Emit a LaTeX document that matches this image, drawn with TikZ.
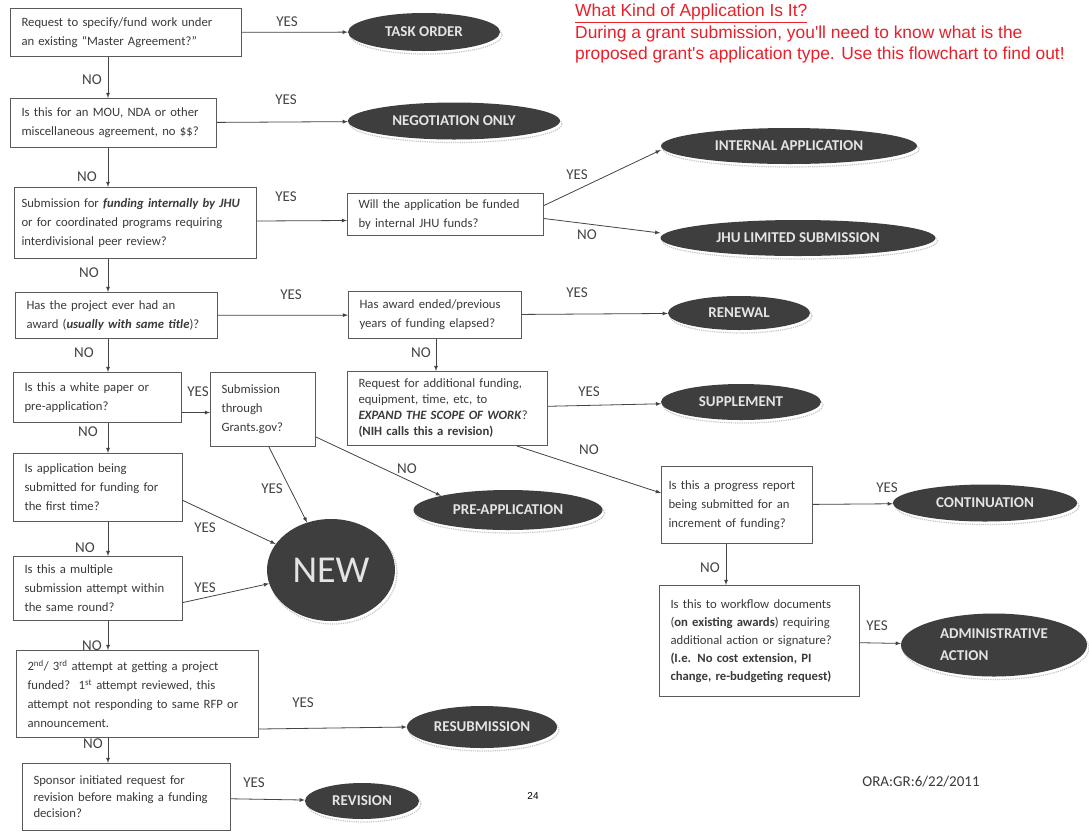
\documentclass[tikz,border=0pt]{standalone}
\usepackage{fontspec}
\setmainfont{Carlito}
\newfontfamily\arialfont{Liberation Sans}
\usetikzlibrary{shapes.geometric}

\definecolor{boxline}{HTML}{5A5A5A}
\definecolor{boxtext}{HTML}{3A3A3A}
\definecolor{ovalfill}{HTML}{3E3E3E}
\definecolor{ovaltext}{HTML}{E4E4E4}
\definecolor{arrowgray}{HTML}{444444}
\definecolor{lblgray}{HTML}{444444}
\definecolor{titlered}{HTML}{E8202A}

\begin{document}
\begin{tikzpicture}[x=1pt,y=-1pt,
    qbox/.style={draw=boxline, line width=1pt, fill=white, text=boxtext, align=left,
      inner xsep=11pt, inner ysep=0pt, anchor=north west,
      font=\fontsize{12.7}{19}\selectfont},
    outcome/.style={ellipse, fill=ovalfill, text=ovaltext, inner sep=0pt,
      font=\fontsize{15}{22}\selectfont\bfseries,
      preaction={draw=black!22, densely dotted, line width=1.2pt,
        transform canvas={xshift=2pt,yshift=-3pt}}},
    lbl/.style={text=lblgray, font=\fontsize{15}{18}\selectfont, inner sep=0pt},
    arr/.style={-latex, draw=arrowgray, line width=0.8pt}]

    \path[use as bounding box, fill=white] (0,0) rectangle (1089,831);

    \node[anchor=north west, inner sep=0pt, align=left, text=titlered,
      font=\arialfont\fontsize{17.4}{21.5}\selectfont] (Title) at (575,4)
      {\underline{What Kind of Application Is It?}\\
       During a grant submission, you'll need to know what is the\\
       proposed grant's application type. Use this flowchart to find out!};

    \coordinate (NOxpos) at (108,0);
    \coordinate (Endxpos) at (436,0);
    \coordinate (Prgxpos) at (726,0);

    \node[qbox, text width=209pt, minimum height=48pt] (Req) at (10,8)
      {Request to specify/fund work under\\ an existing “Master Agreement?”};
    \node[qbox, text width=184pt, minimum height=49pt] (MOU) at (10,98)
      {Is this for an MOU, NDA or other\\ miscellaneous agreement, no \$\$?};
    \node[qbox, text width=228pt, inner xsep=7pt, minimum height=71pt] (JHU) at (14,187)
      {Submission for \textbf{\textit{funding internally by JHU}}\\ or for coordinated programs requiring\\ interdivisional peer review?};
    \node[qbox, text width=174pt, minimum height=42pt] (Fund) at (347,193)
      {Will the application be funded\\ by internal JHU funds?};
    \node[qbox, text width=180pt, minimum height=46pt] (Awd) at (15,292)
      {Has the project ever had an\\ award (\textbf{\textit{usually with same title}})?};
    \node[qbox, text width=151pt, minimum height=47pt] (End) at (348,291)
      {Has award ended/previous\\ years of funding elapsed?};
    \node[qbox, text width=146pt, minimum height=50pt] (Wht) at (13,372)
      {Is this a white paper or\\ pre-application?};
    \node[qbox, text width=83pt, minimum height=74pt] (Grt) at (210,372)
      {Submission\\ through\\ Grants.gov?};
    \node[qbox, text width=178pt, minimum height=74pt, font=\fontsize{12.7}{16}\selectfont] (Add) at (347,371)
      {Request for additional funding,\\ equipment, time, etc, to\\ \textbf{\textit{EXPAND THE SCOPE OF WORK}}?\\ \textbf{(NIH calls this a revision)}};
    \node[qbox, text width=147pt, minimum height=68pt] (Frst) at (13,453)
      {Is application being\\ submitted for funding for\\ the first time?};
    \node[qbox, text width=137pt, inner xsep=7pt, minimum height=77pt] (Prg) at (661,466)
      {Is this a progress report\\ being submitted for an\\ increment of funding?};
    \node[qbox, text width=147pt, minimum height=64pt] (Mlt) at (13,556)
      {Is this a multiple\\ submission attempt within\\ the same round?};
    \node[qbox, text width=178pt, minimum height=111pt, font=\fontsize{12.7}{18}\selectfont] (Wfl) at (659,585)
      {Is this to workflow documents\\ (\textbf{on existing awards}) requiring\\ additional action or signature?\\ \textbf{(I.e. No cost extension, PI}\\ \textbf{change, re-budgeting request)}};
    \node[qbox, text width=220pt, minimum height=87pt] (Att) at (16,650)
      {2\textsuperscript{nd}/ 3\textsuperscript{rd} attempt at getting a project\\ funded?~~1\textsuperscript{st} attempt reviewed, this\\ attempt not responding to same RFP or\\ announcement.};
    \node[qbox, text width=186pt, minimum height=67pt, font=\fontsize{12.7}{16.5}\selectfont] (Spn) at (22,763)
      {Sponsor initiated request for\\ revision before making a funding\\ decision?};

    \node[outcome, minimum width=152pt, minimum height=38pt] (TOr) at (424,32) {TASK ORDER};
    \node[outcome, minimum width=212pt, minimum height=37pt] (NOn) at (454,121) {NEGOTIATION ONLY};
    \node[outcome, minimum width=256pt, minimum height=36pt] (IAp) at (789,146) {INTERNAL APPLICATION};
    \node[outcome, minimum width=275pt, minimum height=36pt] (JLS) at (798,238) {JHU LIMITED SUBMISSION};
    \node[outcome, minimum width=142pt, minimum height=34pt] (Ren) at (739,313) {RENEWAL};
    \node[outcome, minimum width=160pt, minimum height=36pt] (Sup) at (741,402) {SUPPLEMENT};
    \node[outcome, minimum width=189pt, minimum height=40pt] (PAp) at (508,510) {PRE-APPLICATION};
    \node[outcome, minimum width=184pt, minimum height=37pt] (Con) at (985,503) {CONTINUATION};
    \node[outcome, minimum width=128pt, minimum height=102pt, font=\fontsize{38}{40}\selectfont] (New) at (331,570) {NEW};
    \node[outcome, minimum width=186pt, minimum height=63pt, align=left] (Adm) at (994,645) {ADMINISTRATIVE\\ ACTION};
    \node[outcome, minimum width=150pt, minimum height=42pt] (Res) at (482,727) {RESUBMISSION};
    \node[outcome, minimum width=114pt, minimum height=36pt] (Rev) at (362,801) {REVISION};

    \node[lbl] (ReqYes) at (287,22) {YES};
    \node[lbl] (MOUYes) at (286,100) {YES};
    \node[lbl] (JHUYes) at (286,197) {YES};
    \node[lbl] (FundYes) at (577,175) {YES};
    \node[lbl] (AwdYes) at (291,295) {YES};
    \node[lbl] (EndYes) at (577,293) {YES};
    \node[lbl] (WhtYes) at (198,392) {YES};
    \node[lbl] (AddYes) at (589,392) {YES};
    \node[lbl] (GrtYes) at (272,489) {YES};
    \node[lbl] (FrstYes) at (205,528) {YES};
    \node[lbl] (PrgYes) at (887,488) {YES};
    \node[lbl] (MltYes) at (205,588) {YES};
    \node[lbl] (WflYes) at (877,626) {YES};
    \node[lbl] (AttYes) at (303,703) {YES};
    \node[lbl] (SpnYes) at (254,783) {YES};

    \node[lbl] (ReqNo) at (92,80) {NO};
    \node[lbl] (MOUNo) at (87,177) {NO};
    \node[lbl] (JHUNo) at (89,273) {NO};
    \node[lbl] (FundNo) at (587,235) {NO};
    \node[lbl] (AwdNo) at (84,353) {NO};
    \node[lbl] (EndNo) at (421,353) {NO};
    \node[lbl] (WhtNo) at (88,432) {NO};
    \node[lbl] (GrtNo) at (407,469) {NO};
    \node[lbl] (AddNo) at (589,450) {NO};
    \node[lbl] (FrstNo) at (85,548) {NO};
    \node[lbl] (PrgNo) at (710,568) {NO};
    \node[lbl] (MltNo) at (92,646) {NO};
    \node[lbl] (AttNo) at (93,744) {NO};

    \node[text=boxtext, font=\fontsize{15}{18}\selectfont] (Date) at (921,782) {ORA:GR:6/22/2011};
    \node[font=\arialfont\fontsize{10}{12}\selectfont] (Page) at (533,796) {24};

    \draw[arr] (Req) -- (TOr);
    \draw[arr] (MOU) -- (NOn);
    \draw[arr] ([yshift=2pt]JHU.east) -- ([yshift=-6pt]Fund.west);
    \draw[arr] ([yshift=9pt]Fund.east) -- ([yshift=-4pt]IAp.west);
    \draw[arr] ([yshift=-4pt]Fund.east) -- ([yshift=5pt]JLS.west);
    \draw[arr] (Awd) -- (End);
    \draw[arr] (End) -- (Ren);
    \draw[arr] ([yshift=-15pt]Wht.east) -- ([yshift=-3pt]Grt.west);
    \draw[arr] (Add) -- (Sup);
    \draw[arr] ([yshift=10pt]Grt.south east) -- (PAp.north west);
    \draw[arr] ([xshift=6pt]Grt.south) -- (New);
    \draw[arr] ([yshift=-13pt]Frst.east) -- (New);
    \draw[arr] ([yshift=-14pt]Mlt.east) -- (New);
    \draw[arr] ([xshift=-31pt]Add.south east) -- ([yshift=12pt]Prg.west);
    \draw[arr] (Prg) -- (Con);
    \draw[arr] (Wfl) -- (Adm);
    \draw[arr] ([yshift=9pt]Att.south east) -- (Res.west);
    \draw[arr] (Spn) -- (Rev);

    \draw[arr] (Req.south -| NOxpos) -- (MOU.north -| NOxpos);
    \draw[arr] (MOU.south -| NOxpos) -- (JHU.north -| NOxpos);
    \draw[arr] (JHU.south -| NOxpos) -- (Awd.north -| NOxpos);
    \draw[arr] (Awd.south -| NOxpos) -- (Wht.north -| NOxpos);
    \draw[arr] (Wht.south -| NOxpos) -- (Frst.north -| NOxpos);
    \draw[arr] (Frst.south -| NOxpos) -- (Mlt.north -| NOxpos);
    \draw[arr] (Mlt.south -| NOxpos) -- (Att.north -| NOxpos);
    \draw[arr] (Att.south -| NOxpos) -- (Spn.north -| NOxpos);
    \draw[arr] (End.south -| Endxpos) -- (Add.north -| Endxpos);
    \draw[arr] (Prg.south -| Prgxpos) -- (Wfl.north -| Prgxpos);
  \end{tikzpicture}
\end{document}
